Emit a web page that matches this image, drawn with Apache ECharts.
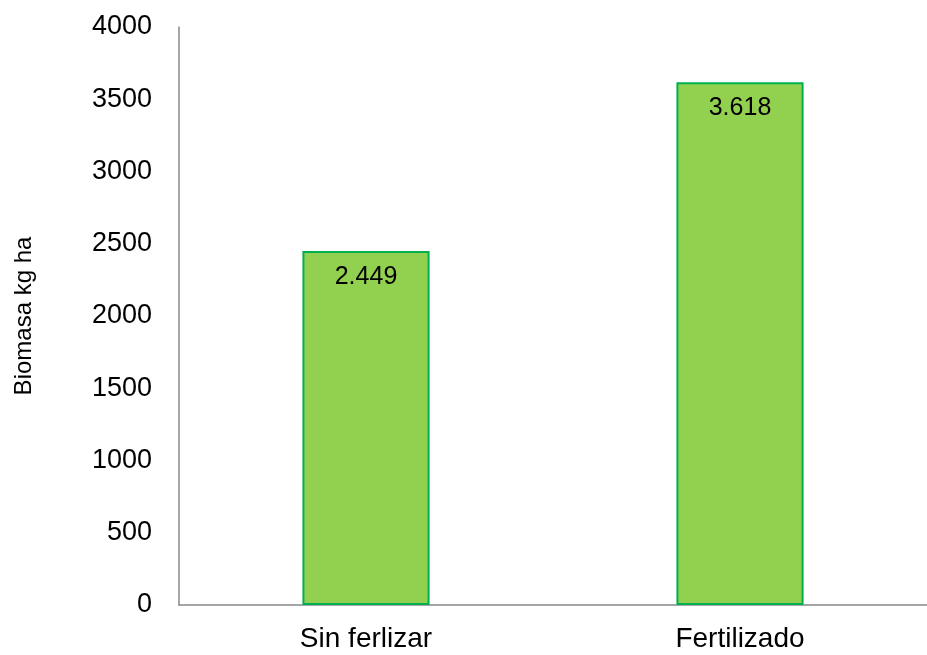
<!DOCTYPE html>
<html>
<head>
<meta charset="utf-8">
<script src="https://cdn.jsdelivr.net/npm/echarts@6/dist/echarts.min.js"></script>
<style>
  html, body { margin: 0; padding: 0; background: #fff; }
  #chart { width: 927px; height: 655px; }
</style>
</head>
<body>
<div id="chart"></div>
<script>
const categories = ['Sin ferlizar', 'Fertilizado'];
const biomasa = [2449, 3618];
const yTicks = [0, 500, 1000, 1500, 2000, 2500, 3000, 3500, 4000];

// formato con punto de miles, como en el original
const fmtMiles = v => String(v).replace(/\B(?=(\d{3})+(?!\d))/g, '.');

const chart = echarts.init(document.getElementById('chart'));
chart.setOption({
    animation: false,
    textStyle: { fontFamily: 'Liberation Sans, Arial, sans-serif' },
    grid: { left: 179, right: 0, top: 27, bottom: 50, outerBoundsMode: 'none', containLabel: false },
    xAxis: {
        type: 'category',
        data: categories,
        axisLine: { lineStyle: { color: '#898989', width: 1.5 } },
        axisTick: { show: false },
        axisLabel: { color: '#000', fontSize: 28, margin: 20 }
    },
    yAxis: {
        type: 'value',
        min: yTicks[0],
        max: yTicks[yTicks.length - 1],
        interval: 500,
        name: 'Biomasa kg ha',
        nameLocation: 'middle',
        nameGap: 143,
        nameTextStyle: { color: '#000', fontSize: 24 },
        axisLine: { show: true, lineStyle: { color: '#898989', width: 1.5 } },
        axisTick: { show: false },
        splitLine: { show: false },
        axisLabel: { color: '#000', fontSize: 27, margin: 27, formatter: v => String(v) }
    },
    series: [{
        type: 'bar',
        data: biomasa,
        barWidth: '34%',
        itemStyle: { color: '#92D050', borderColor: '#00B050', borderWidth: 2 },
        label: {
            show: true,
            position: 'insideTop',
            distance: 13,
            color: '#000',
            fontSize: 25,
            formatter: p => fmtMiles(p.value)
        }
    }]
});
</script>
</body>
</html>
